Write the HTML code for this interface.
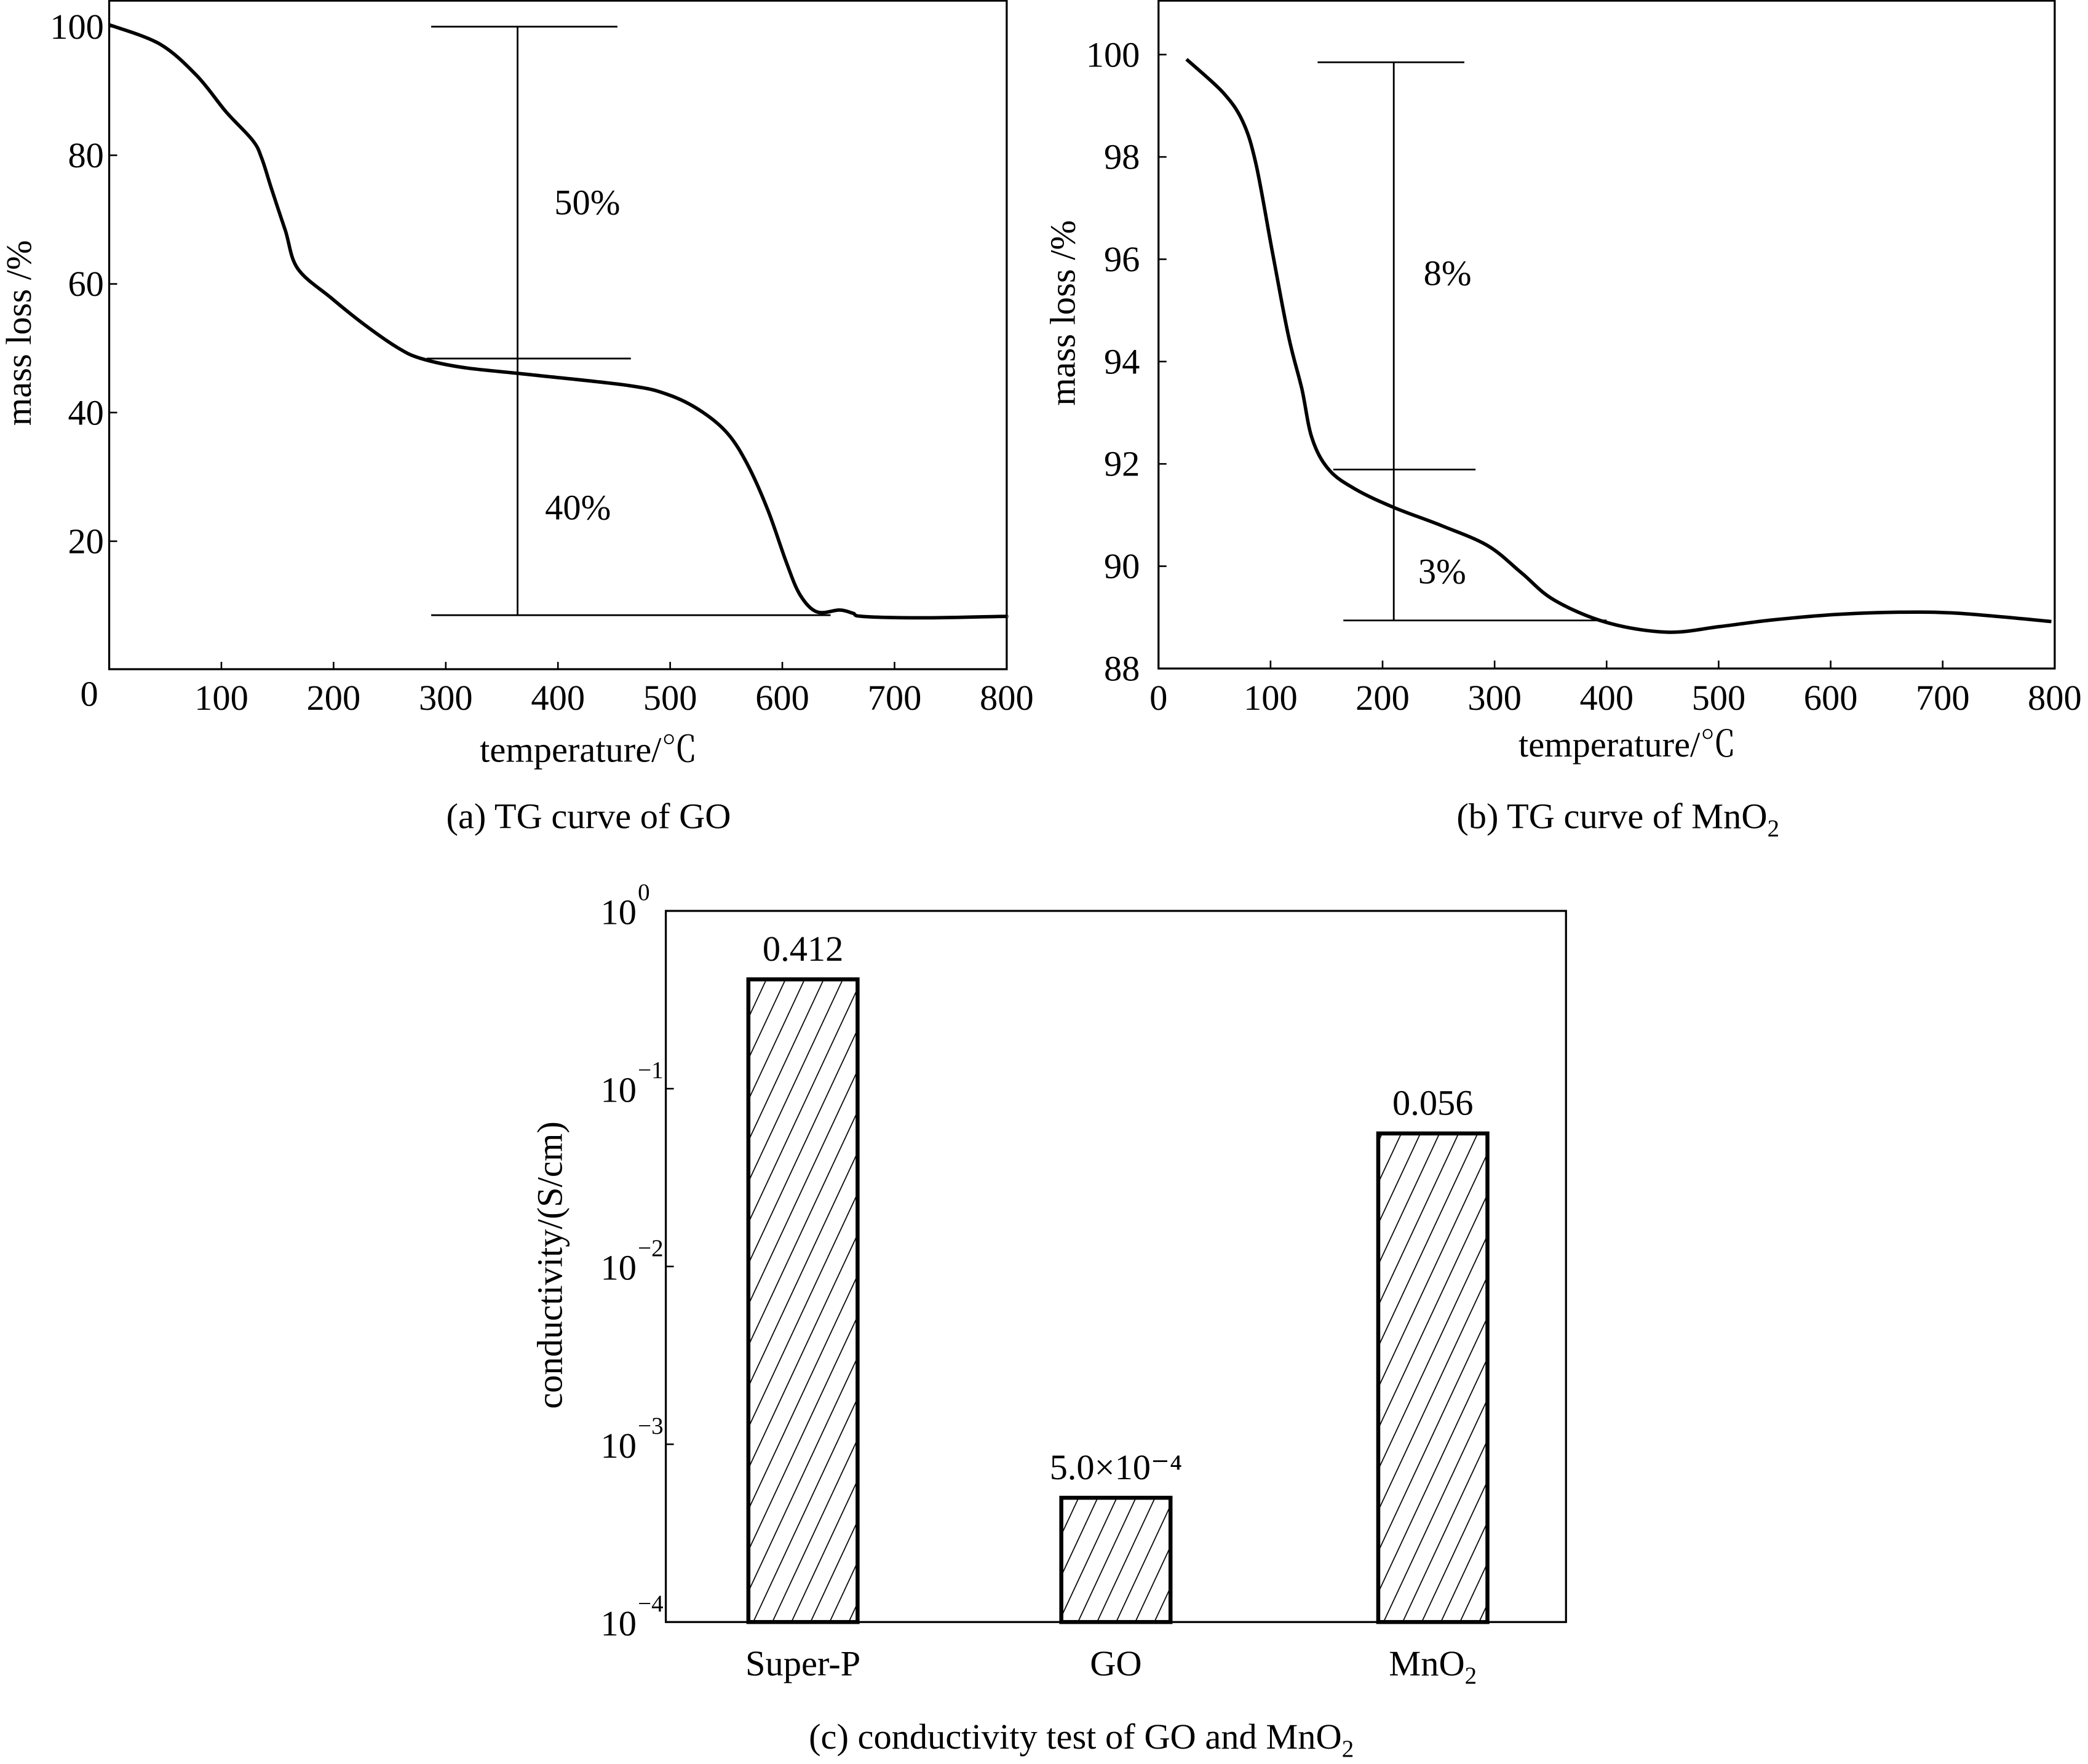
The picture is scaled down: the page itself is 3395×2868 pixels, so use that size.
<!DOCTYPE html>
<html><head><meta charset="utf-8"><style>
html,body{margin:0;padding:0;background:#fff}
svg{display:block}
text{font-family:"Liberation Serif","Noto Serif CJK SC",serif;fill:#000}
</style></head><body>
<svg id="root" xmlns="http://www.w3.org/2000/svg" width="3395" height="2868" viewBox="0 0 1568 1324.6">
<rect width="1568" height="1324.6" fill="#fff"/>
<defs>
<pattern id="hatch" patternUnits="userSpaceOnUse" width="13" height="13" patternTransform="rotate(25)">
<line x1="0" y1="0" x2="0" y2="13" stroke="#000" stroke-width="1.6"/>
</pattern>
</defs>
<g id="pa"></g>
<g id="pb"></g>
<g id="pc"></g>
</svg>
<script>
// Panel A data
const aTemps=[0,45,78,104,128,136,145,157,168,198,228,257,278,316,375,463,498,527,551,569,587,604,616,631,651,663,672,728,792,800];
const aMass=[100.3,97.3,92.4,86.8,82.3,79.5,74.6,68.3,62.4,57.8,53.6,50.1,48.4,47.0,45.9,44.2,42.8,40.3,36.8,31.9,24.9,16.5,11.6,9.0,9.3,8.8,8.3,8.1,8.3,8.3];
const aYTicks=[20,40,60,80,100];
const aXTicks=[100,200,300,400,500,600,700,800];
// Panel B data
const bTemps=[25,57,75,87,102,116,128,137,152,176,211,253,294,324,353,400,454,501,548,607,661,714,797];
const bMass=[99.91,99.27,98.7,97.86,96.1,94.5,93.46,92.5,91.89,91.5,91.14,90.79,90.4,89.87,89.34,88.9,88.71,88.82,88.95,89.06,89.1,89.08,88.92];
const bYTicks=[88,90,92,94,96,98,100];
const bXTicks=[100,200,300,400,500,600,700,800];
// Panel C data
const cCats=["Super-P","GO","MnO2"];
const cVals=[0.412,0.0005,0.056];
const cLabels=["0.412","5.0×10⁻⁴","0.056"];
const cExps=[0,-1,-2,-3,-4];

const NS="http://www.w3.org/2000/svg";
const FS=27;
function mk(p,tag,at,txt){const e=document.createElementNS(NS,tag);for(const k in at)e.setAttribute(k,at[k]);if(txt!==undefined)e.textContent=txt;p.appendChild(e);return e;}
function smooth(pts){let d='M'+pts[0][0].toFixed(1)+','+pts[0][1].toFixed(1);
for(let i=0;i<pts.length-1;i++){const p0=pts[Math.max(0,i-1)],p1=pts[i],p2=pts[i+1],p3=pts[Math.min(pts.length-1,i+2)];
const c1=[p1[0]+(p2[0]-p0[0])/6,p1[1]+(p2[1]-p0[1])/6],c2=[p2[0]-(p3[0]-p1[0])/6,p2[1]-(p3[1]-p1[1])/6];
d+=' C'+c1.map(v=>v.toFixed(1))+' '+c2.map(v=>v.toFixed(1))+' '+p2.map(v=>v.toFixed(1));}
return d;}
function sub(t,s){const ts=mk(t,'tspan',{'font-size':18,dy:6},s);return ts;}

// ---------- Panel A ----------
(function(){
const g=document.getElementById('pa');
const x=t=>82+t*(756-82)/800, y=m=>503-m*(503-20)/100;
let e=mk(g,'rect',{x:82,y:0.5,width:674,height:502,fill:'none',stroke:'#000','stroke-width':1.5});

aYTicks.forEach(v=>{const l=mk(g,'line',{x1:82,x2:88,y1:y(v),y2:y(v),stroke:'#000','stroke-width':1.2});

const t=mk(g,'text',{x:78,y:y(v)+9,'text-anchor':'end','font-size':FS},String(v));
});
aXTicks.forEach(v=>{const l=mk(g,'line',{x1:x(v),x2:x(v),y1:503,y2:497,stroke:'#000','stroke-width':1.2});

const t=mk(g,'text',{x:x(v),y:533,'text-anchor':'middle','font-size':FS},String(v));
});
e=mk(g,'text',{x:67,y:530,'text-anchor':'middle','font-size':FS},'0');
e=mk(g,'text',{x:442,y:572,'text-anchor':'middle','font-size':FS},'temperature/℃');
e=mk(g,'text',{x:0,y:0,'text-anchor':'middle','font-size':FS,transform:'translate(23,250) rotate(-90)'},'mass loss /%');
[[287,453,100],[283,465,48.4],[287,643,8.5]].forEach(r=>{const l=mk(g,'line',{x1:x(r[0]),x2:x(r[1]),y1:y(r[2]),y2:y(r[2]),stroke:'#000','stroke-width':1.3});
});
e=mk(g,'line',{x1:x(364),x2:x(364),y1:y(100),y2:y(8.5),stroke:'#000','stroke-width':1.3});
e=mk(g,'text',{x:441,y:161,'text-anchor':'middle','font-size':FS},'50%');
e=mk(g,'text',{x:434,y:390,'text-anchor':'middle','font-size':FS},'40%');
e=mk(g,'path',{d:smooth(aTemps.map((t,i)=>[x(t),y(aMass[i])])),fill:'none',stroke:'#000','stroke-width':2.6,'stroke-linejoin':'round'});
e=mk(g,'text',{x:442,y:622,'text-anchor':'middle','font-size':FS},'(a) TG curve of GO');
})();

// ---------- Panel B ----------
(function(){
const g=document.getElementById('pb');
const x=t=>870+t*(1543-870)/800, y=m=>502-(m-88)*(502-41)/12;
let e=mk(g,'rect',{x:870,y:0.5,width:673,height:501.5,fill:'none',stroke:'#000','stroke-width':1.5});

bYTicks.forEach(v=>{const l=mk(g,'line',{x1:870,x2:876,y1:y(v),y2:y(v),stroke:'#000','stroke-width':1.2});

const t=mk(g,'text',{x:856,y:y(v)+9,'text-anchor':'end','font-size':FS},String(v));
});
bXTicks.forEach(v=>{const l=mk(g,'line',{x1:x(v),x2:x(v),y1:502,y2:496,stroke:'#000','stroke-width':1.2});

const t=mk(g,'text',{x:x(v),y:533,'text-anchor':'middle','font-size':FS},String(v));
});
e=mk(g,'text',{x:870,y:533,'text-anchor':'middle','font-size':FS},'0');
e=mk(g,'text',{x:1222,y:568,'text-anchor':'middle','font-size':FS},'temperature/℃');
e=mk(g,'text',{x:0,y:0,'text-anchor':'middle','font-size':FS,transform:'translate(807,235) rotate(-90)'},'mass loss /%');
[[142,273,99.85],[156,283,91.89],[165,400,88.94]].forEach(r=>{const l=mk(g,'line',{x1:x(r[0]),x2:x(r[1]),y1:y(r[2]),y2:y(r[2]),stroke:'#000','stroke-width':1.3});
});
e=mk(g,'line',{x1:x(210),x2:x(210),y1:y(99.85),y2:y(88.94),stroke:'#000','stroke-width':1.3});
e=mk(g,'text',{x:1087,y:214,'text-anchor':'middle','font-size':FS},'8%');
e=mk(g,'text',{x:1083,y:438,'text-anchor':'middle','font-size':FS},'3%');
e=mk(g,'path',{d:smooth(bTemps.map((t,i)=>[x(t),y(bMass[i])])),fill:'none',stroke:'#000','stroke-width':2.6,'stroke-linejoin':'round'});
e=mk(g,'text',{x:1215,y:622,'text-anchor':'middle','font-size':FS},'(b) TG curve of MnO');
sub(e,'2');
})();

// ---------- Panel C ----------
(function(){
const g=document.getElementById('pc');
const top=684,bot=1218,L=500,R=1176;
const y=v=>top+(-Math.log10(v))*(bot-top)/4;
const centers=[603,838,1076], bw=82;
let e=mk(g,'rect',{x:L,y:top,width:R-L,height:bot-top,fill:'none',stroke:'#000','stroke-width':1.5});

cExps.forEach(p=>{const yy=y(Math.pow(10,p));
const l=mk(g,'line',{x1:L,x2:L+6,y1:yy,y2:yy,stroke:'#000','stroke-width':1.2});
const t=mk(g,'text',{x:451,y:yy+10,'font-size':FS},'10');
const s=mk(g,'text',{x:479,y:yy-8,'font-size':18},p===0?'0':'−'+(-p));});
cVals.forEach((v,i)=>{const yy=y(v);
const r=mk(g,'rect',{x:centers[i]-bw/2,y:yy,width:bw,height:bot-yy,fill:'url(#hatch)',stroke:'#000','stroke-width':3});

const t=mk(g,'text',{x:centers[i],y:yy-14,'text-anchor':'middle','font-size':FS},cLabels[i]);

const c=mk(g,'text',{x:centers[i],y:1258,'text-anchor':'middle','font-size':FS},cCats[i]==='MnO2'?'MnO':cCats[i]);

if(cCats[i]==='MnO2'){sub(c,'2');}
});
e=mk(g,'text',{x:0,y:0,'text-anchor':'middle','font-size':FS,transform:'translate(422,950) rotate(-90)'},'conductivity/(S/cm)');
e=mk(g,'text',{x:812,y:1313,'text-anchor':'middle','font-size':FS},'(c) conductivity test of GO and MnO');
sub(e,'2');
})();
</script>
</body></html>
